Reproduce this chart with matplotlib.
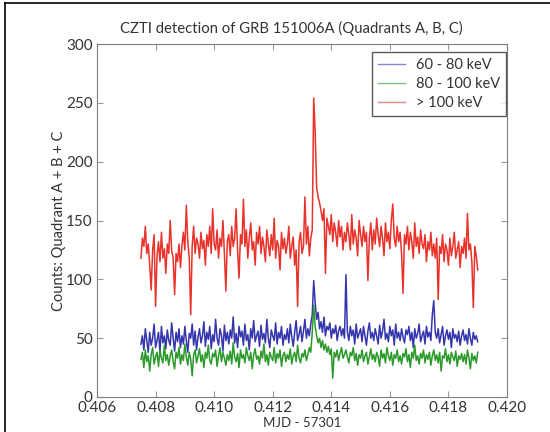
import numpy as np
import matplotlib
matplotlib.use("Agg")
import matplotlib.pyplot as plt
from matplotlib.lines import Line2D

# time bins (MJD - 57301)
t_start, t_step = 0.4075, 0.00005

# counts > 100 keV
red = [118, 135, 128, 145, 122, 130, 112, 91, 125, 138, 77, 120, 132, 115, 140, 118, 126, 105, 130, 122,
       150, 124, 118, 87, 122, 115, 130, 110, 128, 140, 125, 163, 132, 118, 70, 128, 145, 122, 135, 130,
       118, 140, 126, 133, 112, 138, 128, 145, 122, 160, 130, 125, 142, 118, 135, 128, 150, 122, 90, 132,
       138, 120, 145, 128, 135, 160, 125, 101, 138, 130, 168, 128, 142, 118, 135, 148, 125, 132, 112, 140,
       130, 145, 122, 136, 128, 115, 142, 130, 120, 138, 125, 152, 118, 133, 128, 108, 140, 126, 135, 122,
       130, 145, 118, 128, 136, 112, 125, 77, 132, 140, 122, 128, 170, 130, 145, 120, 135, 142, 254, 225,
       178, 170, 165, 158, 150, 160, 105, 152, 145, 138, 155, 132, 148, 140, 128, 150, 136, 145, 125, 140,
       132, 148, 138, 125, 155, 130, 142, 135, 120, 150, 138, 128, 145, 132, 140, 99, 135, 148, 125, 142,
       130, 152, 138, 128, 145, 135, 120, 148, 132, 140, 126, 150, 164, 135, 128, 145, 132, 140, 122, 88,
       138, 130, 145, 125, 140, 132, 118, 148, 128, 136, 122, 142, 130, 126, 138, 115, 132, 125, 140, 120,
       130, 118, 135, 83, 128, 122, 138, 115, 130, 125, 112, 135, 120, 128, 140, 118, 125, 132, 110, 128,
       122, 135, 118, 156, 125, 130, 115, 76, 128, 120, 108]

# counts 60 - 80 keV
blue = [45, 52, 40, 58, 48, 38, 55, 44, 50, 62, 42, 48, 55, 38, 60, 46, 52, 41, 57, 48,
        44, 63, 50, 39, 55, 47, 58, 42, 52, 45, 60, 48, 38, 54, 50, 62, 44, 56, 40, 51,
        58, 46, 52, 64, 43, 55, 49, 60, 41, 53, 47, 66, 50, 44, 58, 52, 39, 61, 48, 55,
        45, 57, 50, 68, 46, 54, 42, 60, 51, 56, 44, 62, 48, 53, 40, 58, 50, 65, 47, 52,
        56, 43, 61, 49, 54, 46, 66, 50, 42, 57, 52, 48, 63, 45, 55, 50, 60, 44, 53, 49,
        58, 46, 62, 51, 43, 55, 65, 48, 53, 60, 47, 56, 66, 50, 58, 52, 62, 70, 99, 80,
        66, 72, 58, 64, 55, 68, 52, 60, 57, 63, 50, 58, 54, 61, 48, 56, 60, 52, 58, 50,
        104, 55, 48, 60, 52, 57, 45, 62, 50, 54, 58, 47, 60, 52, 44, 56, 63, 50, 55, 48,
        58, 52, 45, 61, 50, 56, 66, 49, 54, 47, 60, 52, 57, 44, 62, 50, 55, 48, 58, 51,
        46, 57, 53, 60, 48, 55, 42, 58, 50, 54, 62, 47, 52, 56, 45, 60, 51, 55, 48, 70,
        82, 55, 50, 58, 46, 53, 60, 44, 52, 57, 49, 55, 42, 58, 50, 53, 47, 56, 44, 52,
        57, 48, 53, 45, 58, 50, 44, 55, 49, 52, 47]

# counts 80 - 100 keV
green = [32, 38, 25, 40, 30, 35, 22, 36, 42, 28, 34, 38, 26, 40, 33, 29, 44, 31, 36, 27,
         35, 40, 30, 24, 38, 33, 42, 28, 36, 31, 45, 34, 27, 38, 32, 18, 36, 40, 29, 35,
         41, 30, 36, 25, 38, 33, 44, 31, 28, 37, 34, 40, 26, 35, 42, 30, 38, 33, 27, 36,
         31, 39, 28, 46, 34, 30, 37, 25, 40, 33, 36, 29, 42, 35, 31, 38, 24, 36, 41, 32,
         35, 28, 39, 33, 45, 30, 36, 27, 38, 34, 31, 42, 29, 37, 33, 40, 26, 35, 38, 30,
         36, 32, 41, 28, 35, 38, 30, 44, 33, 29, 37, 34, 40, 31, 36, 42, 38, 55, 78, 60,
         52, 46, 50, 42, 48, 40, 45, 38, 43, 36, 41, 16, 38, 34, 40, 31, 37, 42, 33, 36,
         40, 34, 29, 38, 35, 42, 31, 37, 27, 36, 33, 40, 30, 35, 38, 28, 34, 41, 32, 36,
         30, 38, 34, 26, 40, 33, 37, 29, 42, 35, 31, 38, 27, 36, 33, 40, 30, 35, 28, 37,
         34, 41, 30, 36, 25, 38, 33, 44, 31, 35, 28, 37, 33, 40, 29, 36, 32, 38, 27, 35,
         40, 31, 36, 29, 38, 22, 35, 33, 41, 30, 36, 28, 38, 34, 31, 39, 26, 35, 32, 37,
         30, 36, 28, 40, 33, 24, 37, 31, 35, 29, 38]

labels = ['60 - 80 keV', '80 - 100 keV', '> 100 keV']
colors = ['#3535ad', '#2b9a2b', '#e8322a']

t = t_start + t_step * np.arange(len(red))

plt.rcParams['font.family'] = ['Lato', 'DejaVu Sans']
plt.rcParams['font.size'] = 10.5

fig = plt.figure(figsize=(5.5, 4.32), dpi=100)
ax = fig.add_axes([97 / 550, 35 / 432, 410 / 550, 353 / 432])

ax.plot(t, blue, color=colors[0], lw=1.1)
ax.plot(t, green, color=colors[1], lw=1.1)
ax.plot(t, red, color=colors[2], lw=1.1)

ax.set_xlim(0.406, 0.420)
ax.set_ylim(0, 300)
ax.set_xticks(np.arange(0.406, 0.4201, 0.002))
ax.set_xticklabels(['%.3f' % v for v in np.arange(0.406, 0.4201, 0.002)])
ax.set_yticks(range(0, 301, 50))
ax.tick_params(direction='in', top=True, right=True, length=4, color='#999999',
               labelcolor='#333333', labelsize=11)
ax.tick_params(axis='x', pad=3)
ax.tick_params(axis='y', pad=3)
for s in ax.spines.values():
    s.set_color('#808080')

ax.set_title('CZTI detection of GRB 151006A (Quadrants A, B, C)', color='#333333',
             fontsize=10.7, pad=8, x=0.475)
ax.set_xlabel('MJD - 57301', color='#333333', fontsize=9.5, labelpad=1)
ax.set_ylabel('Counts: Quadrant A + B + C', color='#333333', labelpad=0)

handles = [Line2D([], [], color=c, lw=1, alpha=0.6) for c in colors]
leg = ax.legend(handles, labels, loc='upper right', bbox_to_anchor=(0.998, 0.977),
                borderaxespad=0, fancybox=False, fontsize=10.5,
                handlelength=1.8, handletextpad=0.8,
                labelspacing=0.35, labelcolor='#333333')
leg.get_frame().set_edgecolor('#333333')
leg.get_frame().set_linewidth(1.0)

# outer frame of the original page
fig.add_artist(Line2D([5 / 550, 5 / 550], [0, 1 - 3 / 432], color='black', lw=1.2,
                      transform=fig.transFigure))
fig.add_artist(Line2D([5 / 550, 1], [1 - 3 / 432, 1 - 3 / 432], color='black', lw=1.2,
                      transform=fig.transFigure))

fig.savefig('out.png', dpi=100)
